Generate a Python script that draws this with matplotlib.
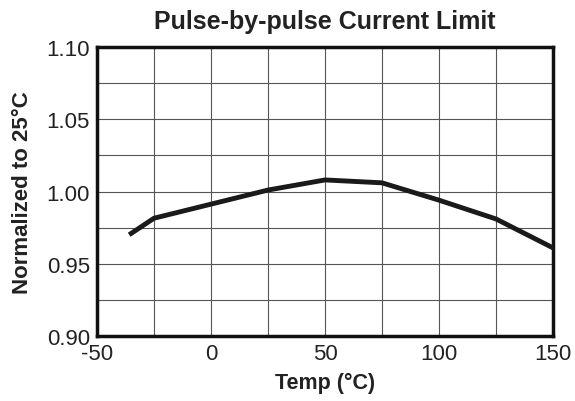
import matplotlib
matplotlib.use("Agg")
import matplotlib.pyplot as plt
import numpy as np

temp = [-35, -25, 25, 50, 75, 100, 125, 150]
norm = [0.971, 0.9815, 1.001, 1.008, 1.006, 0.994, 0.981, 0.961]
xticks = [-50, 0, 50, 100, 150]
yticks = [0.90, 0.95, 1.00, 1.05, 1.10]

plt.rcParams['font.family'] = ['Liberation Sans', 'DejaVu Sans']
fig = plt.figure(figsize=(5.75, 4.02), dpi=100)
ax = fig.add_axes([97/575, 1-337/402, (553-97)/575, (337-48)/402])
ax.set_xlim(-50, 150)
ax.set_ylim(0.90, 1.10)
ax.set_xticks(xticks)
ax.set_xticklabels([str(v) for v in xticks])
ax.set_yticks(yticks)
ax.set_yticklabels([f"{v:.2f}" for v in yticks])
ax.set_xticks(np.arange(-50, 151, 25), minor=True)
ax.set_yticks(np.arange(0.90, 1.101, 0.025), minor=True)
ax.grid(which='both', color='#555555', linewidth=0.8)
ax.tick_params(which='both', length=0, labelsize=16, pad=5, colors='#222222')
for s in ax.spines.values():
    s.set_linewidth(2.5)
    s.set_color('#111111')
ax.plot(temp, norm, color='#1a1a1a', linewidth=3.5, solid_joinstyle='miter', zorder=3)
ax.set_title('Pulse-by-pulse Current Limit', fontsize=18, fontweight='bold', pad=14, color='#222222')
ax.set_xlabel('Temp (°C)', fontsize=15.5, fontweight='bold', labelpad=6, color='#222222')
ax.set_ylabel('Normalized to 25°C', fontsize=16, fontweight='bold', labelpad=10, color='#222222')
fig.savefig('out.png', dpi=100)
